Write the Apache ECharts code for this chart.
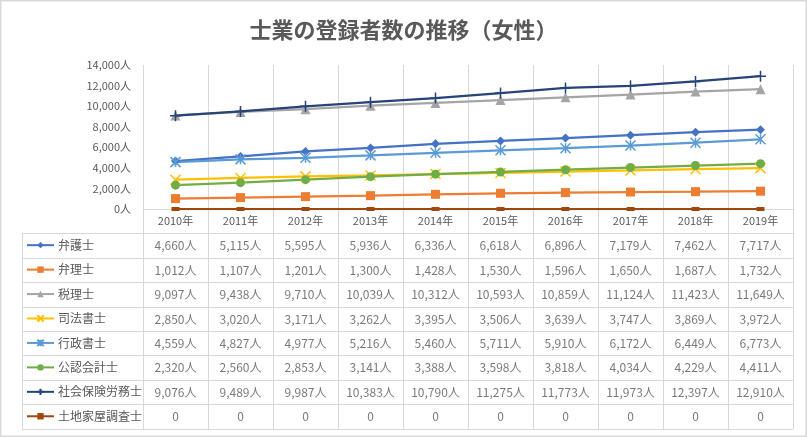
<!DOCTYPE html>
<html><head><meta charset="utf-8">
<script src="https://cdn.jsdelivr.net/npm/echarts@6/dist/echarts.min.js"></script>
<style>html,body{margin:0;padding:0;background:#fff}#c{width:807px;height:437px}</style>
</head><body><div id="c"></div>
<script>
const titleText = '士業の登録者数の推移（女性）';
const years = ['2010年','2011年','2012年','2013年','2014年','2015年','2016年','2017年','2018年','2019年'];
const names = ['弁護士','弁理士','税理士','司法書士','行政書士','公認会計士','社会保険労務士','土地家屋調査士'];
const bengoshi = [4660,5115,5595,5936,6336,6618,6896,7179,7462,7717];
const benrishi = [1012,1107,1201,1300,1428,1530,1596,1650,1687,1732];
const zeirishi = [9097,9438,9710,10039,10312,10593,10859,11124,11423,11649];
const shihoshoshi = [2850,3020,3171,3262,3395,3506,3639,3747,3869,3972];
const gyoseishoshi = [4559,4827,4977,5216,5460,5711,5910,6172,6449,6773];
const kaikeishi = [2320,2560,2853,3141,3388,3598,3818,4034,4229,4411];
const sharoshi = [9076,9489,9987,10383,10790,11275,11773,11973,12397,12910];
const chosashi = [0,0,0,0,0,0,0,0,0,0];
const seriesValues = [bengoshi,benrishi,zeirishi,shihoshoshi,gyoseishoshi,kaikeishi,sharoshi,chosashi];
const yTicks = {min:0, max:14000, interval:2000};

const colors = ['#4472C4','#ED7D31','#A5A5A5','#FFC000','#5B9BD5','#70AD47','#264478','#9E480E'];
const symbols = ['diamond','rect','triangle',
  'path://M0,0L10,10M0,10L10,0',
  'path://M5,0L5,10M0,0L10,10M0,10L10,0',
  'circle',
  'path://M5,0L5,10M0,5L10,5',
  'path://M0,4L10,4L10,6L0,6Z'];
const symSizes = [9,9,10,10,10,9,11,[8,4]];
const strokeSym = [false,false,false,true,true,false,true,false];

const FONT = '"Noto Sans CJK JP","Noto Sans",sans-serif';
const TXT = '#595959';
const GRID = '#D9D9D9';
const fmt = v => v === 0 ? '0' : v.toLocaleString('en-US') + '人';

// layout
const plotL = 143, plotR = 793, plotT = 65, plotB = 209;
const tblB = 429, nRows = names.length + 1;
const rowH = (tblB - plotB) / nRows;
const legH = 8;

const chart = echarts.init(document.getElementById('c'), null, {renderer:'canvas'});

const series = [];
names.forEach((n, i) => {
  const sty = {color: colors[i]};
  if (strokeSym[i]) { sty.borderColor = colors[i]; sty.borderWidth = 1.5; }
  series.push({
    name: n, type: 'line', xAxisIndex: 0, yAxisIndex: 0,
    data: seriesValues[i], symbol: symbols[i], symbolSize: symSizes[i],
    showAllSymbol: true,
    lineStyle: {width: 2.25, color: colors[i]}, itemStyle: sty,
    emphasis: {disabled: true}, animation: false, z: 3 + (i === 6 ? 1 : 0)
  });
});
const cells = [];
seriesValues.forEach((arr, i) => arr.forEach((v, j) => cells.push([j, i + 1, v])));
series.push({
  type: 'scatter', xAxisIndex: 1, yAxisIndex: 1, data: cells, symbolSize: 0,
  label: {show: true, position: 'inside', formatter: p => fmt(p.value[2]),
    color: TXT, fontSize: 12, fontFamily: FONT},
  silent: true, animation: false, legendHoverLink: false
});

const legends = names.map((n, i) => ({
  orient: 'vertical', left: 26, top: plotB + rowH * (i + 1) + rowH / 2 - 6.5, padding: 0,
  itemWidth: 27, itemHeight: legH, itemGap: 0, selectedMode: false,
  data: [n],
  textStyle: {fontSize: 12, color: TXT, fontFamily: FONT, padding: [0,0,0,-1]}
}));

chart.setOption({
  backgroundColor: '#fff',
  animation: false,
  title: {text: titleText, left: 'center', top: 14,
    textStyle: {fontSize: 22, fontWeight: 'bold', color: TXT, fontFamily: FONT}},
  legend: legends,
  grid: [
    {left: plotL, width: plotR - plotL, top: plotT, height: plotB - plotT},
    {left: plotL, width: plotR - plotL, top: plotB, height: tblB - plotB},
    {left: 22, width: plotL - 22, top: plotB + rowH, height: tblB - plotB - rowH}
  ],
  xAxis: [
    {type: 'category', gridIndex: 0, data: years, boundaryGap: true,
      axisLine: {show: true, lineStyle: {color: GRID, width: 1}}, axisTick: {show: false},
      axisLabel: {color: TXT, fontSize: 11, fontFamily: FONT, margin: 6},
      splitLine: {show: true, lineStyle: {color: GRID, width: 1}}},
    {type: 'category', gridIndex: 1, data: years, boundaryGap: true,
      axisLine: {show: false}, axisTick: {show: false}, axisLabel: {show: false},
      splitLine: {show: true, lineStyle: {color: GRID, width: 1}}},
    {type: 'value', gridIndex: 2, show: false}
  ],
  yAxis: [
    {type: 'value', gridIndex: 0, min: yTicks.min, max: yTicks.max, interval: yTicks.interval,
      axisLine: {show: false}, axisTick: {show: false}, splitLine: {show: false},
      axisLabel: {color: TXT, fontSize: 11, fontFamily: FONT, margin: 12, formatter: v => v.toLocaleString('en-US') + '人'}},
    {type: 'category', gridIndex: 1, data: [''].concat(names), inverse: true, boundaryGap: true,
      axisLine: {show: false}, axisTick: {show: false}, axisLabel: {show: false},
      splitLine: {show: true, lineStyle: {color: GRID, width: 1}}},
    {type: 'category', gridIndex: 2, data: names, inverse: true, boundaryGap: true,
      axisLine: {show: true, lineStyle: {color: GRID, width: 1}}, axisTick: {show: false}, axisLabel: {show: false},
      splitLine: {show: true, lineStyle: {color: GRID, width: 1}}}
  ],
  graphic: [{type: 'rect', shape: {x: 0.75, y: 0.75, width: 805.5, height: 435.5},
    style: {fill: null, stroke: GRID, lineWidth: 1.5}, silent: true, z: 100}],
  series: series
});
</script></body></html>
